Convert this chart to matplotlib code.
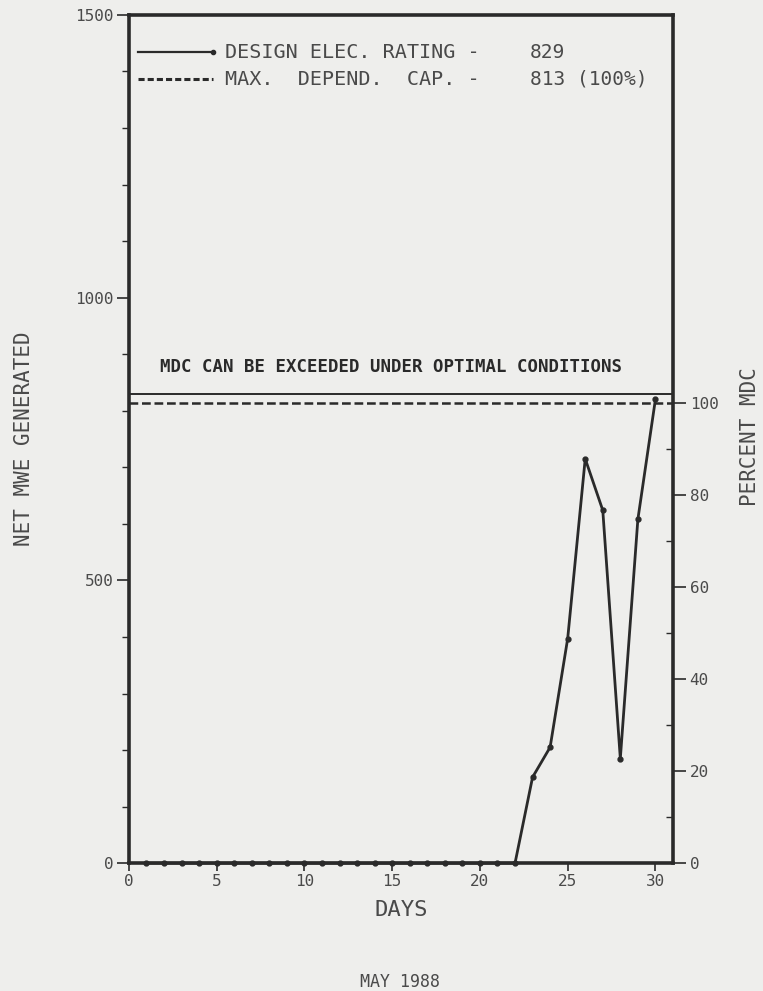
import numpy as np
import matplotlib
matplotlib.use('Agg')
import matplotlib.pyplot as plt
from matplotlib.ticker import FixedLocator

# daily net MWe, May 1988
days = list(range(1, 31))
mwe = [0] * 21 + [0, 152, 205, 397, 715, 624, 185, 608, 820]

der = 829      # design elec. rating
mdc = 813      # max. dependable capacity (100%)
pct_ticks = [0, 20, 40, 60, 80, 100]

ink = '#2a2a2a'
txt = '#4a4a4a'
bg = '#eeeeec'
mono = 'DejaVu Sans Mono'

fig = plt.figure(figsize=(7.63, 9.91), dpi=100, facecolor=bg)
ax = fig.add_axes([0.169, 0.129, 0.713, 0.856], facecolor=bg)

ax.plot(days, mwe, color=ink, lw=2.0, marker='o', ms=3.5, zorder=3, clip_on=False)
ax.axhline(der, color=ink, lw=1.4)
ax.axhline(mdc, color=ink, lw=1.8, ls=(0, (3.5, 1.5)))

ax.set_xlim(0, 31)
ax.set_ylim(0, 1500)
ax.set_xticks(range(0, 31, 5))
ax.set_yticks([0, 500, 1000, 1500])
ax.yaxis.set_minor_locator(FixedLocator(range(0, 1501, 100)))
ax.tick_params(axis='x', which='major', direction='out', length=6, width=1.2,
               color=ink, labelcolor=txt, labelsize=11.5, pad=2)
ax.tick_params(axis='y', which='major', direction='out', length=9, width=1.2,
               color=ink, labelcolor=txt, labelsize=11.5, pad=2)
ax.tick_params(which='minor', direction='out', length=5, width=1.0, color=ink)
for lab in ax.get_xticklabels() + ax.get_yticklabels():
    lab.set_family(mono)
for s in ax.spines.values():
    s.set_linewidth(2.6)
    s.set_color(ink)

ax2 = ax.twinx()
ax2.set_ylim(0, 1500 / mdc * 100)
ax2.set_yticks(pct_ticks)
ax2.yaxis.set_minor_locator(FixedLocator(range(0, 101, 10)))
ax2.tick_params(which='major', direction='out', length=9, width=1.2, color=ink,
                labelcolor=txt, labelsize=11.5, pad=3)
ax2.tick_params(which='minor', direction='in', length=5, width=1.0, color=ink)
for lab in ax2.get_yticklabels():
    lab.set_family(mono)
for s in ax2.spines.values():
    s.set_visible(False)

ax.set_xlabel('DAYS', family=mono, fontsize=16, color=txt)
ax.xaxis.set_label_coords(0.5, -0.043)
ax.set_ylabel('NET MWE GENERATED', family=mono, fontsize=15, color=txt)
ax.yaxis.set_label_coords(-0.175, 0.5)
ax2.set_ylabel('PERCENT MDC', family=mono, fontsize=15, color=txt)
ax2.yaxis.set_label_coords(1.123, 0.503)

# legend drawn like the plotter sheet
ax.plot([0.5, 4.8], [1434, 1434], color=ink, lw=1.6, marker='o', ms=3, markevery=[1])
ax.plot([0.5, 4.8], [1386, 1386], color=ink, lw=2.2, ls=(0, (2, 1)))
ax.text(5.5, 1434, 'DESIGN ELEC. RATING -', family=mono, fontsize=14.5,
        color=txt, va='center')
ax.text(22.85, 1434, '829', family=mono, fontsize=14, color=txt, va='center')
ax.text(5.5, 1386, 'MAX.  DEPEND.  CAP. -', family=mono, fontsize=14.5,
        color=txt, va='center')
ax.text(22.85, 1386, '813 (100%)', family=mono, fontsize=14, color=txt, va='center')

ax.text(1.75, 878, 'MDC CAN BE EXCEEDED UNDER OPTIMAL CONDITIONS', family=mono,
        fontsize=12.5, fontweight='bold', color=ink, va='center')

fig.text(0.524, 0.004, 'MAY 1988', family=mono, fontsize=12, color=txt, ha='center')

fig.savefig('out.png', dpi=100, facecolor=bg)
